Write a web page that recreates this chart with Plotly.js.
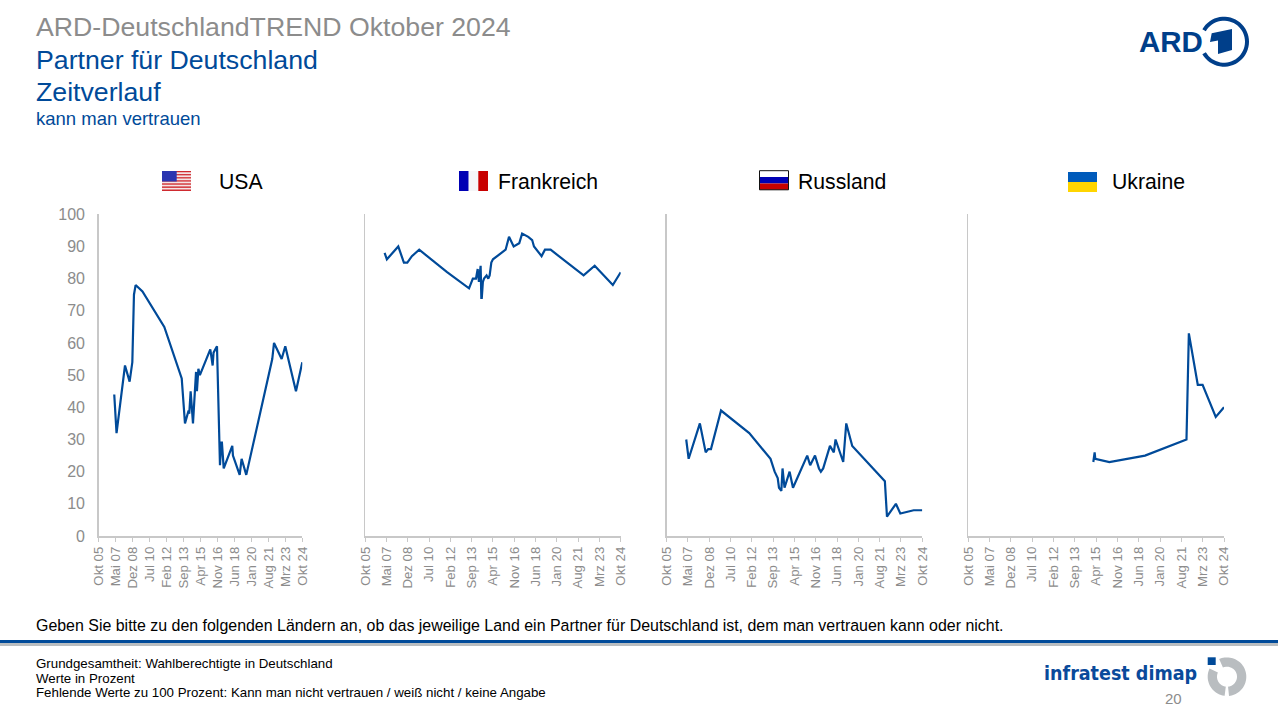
<!DOCTYPE html>
<html lang="de">
<head>
<meta charset="utf-8">
<title>ARD-DeutschlandTREND Oktober 2024</title>
<script src="https://cdn.plot.ly/plotly-3.0.1.min.js"></script>
<style>html,body{margin:0;padding:0;background:#fff;overflow:hidden}#chart{width:1278px;height:708px}</style>
</head>
<body>
<div id="chart"></div>
<script>
const tickDates = ["2005-10-01","2007-05-01","2008-12-01","2010-07-01","2012-02-01","2013-09-01","2015-04-01","2016-11-01","2018-06-01","2020-01-01","2021-08-01","2023-03-01","2024-10-01"];
const tickLabels = ["Okt 05","Mai 07","Dez 08","Jul 10","Feb 12","Sep 13","Apr 15","Nov 16","Jun 18","Jan 20","Aug 21","Mrz 23","Okt 24"];

const usaDates = ["2007-03-15","2007-06-01","2008-03-15","2008-08-20","2008-11-20","2009-01-15","2009-03-12","2009-11-01","2011-11-15","2013-07-01","2013-10-20","2014-01-01","2014-02-20","2014-03-15","2014-05-01","2014-07-20","2014-11-01","2014-12-01","2015-01-20","2015-03-12","2016-03-01","2016-05-20","2016-06-20","2016-10-15","2017-01-25","2017-03-10","2017-04-01","2017-06-01","2018-03-20","2018-04-12","2018-11-28","2019-02-01","2019-07-10","2021-12-12","2022-02-10","2022-10-28","2023-03-01","2024-02-28","2024-10-01"];
const usaValues = [44,32,53,48,54,75,78,76,65,49,35,38,39,38,45,35,51,45,52,50,58,53,57,59,22,29,29,21,28,25,19,24,19,55,60,55,59,45,54];

const frDates = ["2007-03-10","2007-05-10","2008-03-15","2008-08-15","2008-11-15","2009-03-20","2009-10-05","2011-11-01","2013-06-20","2013-10-01","2013-12-25","2014-02-10","2014-03-15","2014-05-01","2014-05-20","2014-06-01","2014-07-01","2014-08-01","2014-10-10","2014-11-25","2015-01-01","2015-02-15","2015-04-01","2016-03-10","2016-06-10","2016-10-15","2017-03-15","2017-06-01","2017-11-15","2018-03-01","2018-04-20","2018-11-12","2019-02-12","2019-07-15","2021-12-28","2022-10-25","2024-03-01","2024-10-01"];
const frValues = [88,86,90,85,85,87,89,82,77,80,80,83,79,84,74,74,79,80,81,80,81,85,86,89,93,90,91,94,93,92,90,87,89,89,81,84,78,82];

const ruDates = ["2007-03-15","2007-05-20","2008-03-20","2008-08-25","2008-11-01","2009-01-15","2009-10-15","2011-11-20","2013-06-20","2013-10-10","2014-01-01","2014-02-05","2014-04-10","2014-05-12","2014-07-05","2014-11-20","2015-02-20","2016-03-12","2016-06-01","2016-10-10","2017-01-25","2017-03-18","2017-05-20","2017-11-20","2018-03-05","2018-04-20","2018-11-15","2019-02-05","2019-07-18","2021-12-20","2022-02-15","2022-10-15","2023-02-12","2024-02-10","2024-10-01"];
const ruValues = [30,24,35,26,27,27,39,32,24,20,18,15,14,21,15,20,15,25,22,25,21,20,21,28,26,30,23,35,28,17,6,10,7,8,8];

const uaDates = ["2015-01-15","2015-02-20","2015-03-10","2016-03-25","2018-11-18","2021-12-18","2022-02-20","2022-10-20","2023-02-28","2024-02-20","2024-10-01"];
const uaValues = [23,26,24,23,25,30,63,47,47,37,40];

const W = 1278, H = 708;
const BLUE = "#004a99", GREY_TXT = "#8c8c8c", AXIS = "#c8c8c8";
const FONT = "Liberation Sans, Arial, sans-serif";
const fx = p => p / W, fy = p => 1 - p / H;

const panels = [
  {name:"USA", d:usaDates, v:usaValues, x0:98.7, x1:302.3, tx:218},
  {name:"Frankreich", d:frDates, v:frValues, x0:365.3, x1:620.7, tx:496.5},
  {name:"Russland", d:ruDates, v:ruValues, x0:666.7, x1:922.3, tx:797},
  {name:"Ukraine", d:uaDates, v:uaValues, x0:968.3, x1:1224, tx:1111}
];
const TOP = 214.3, BOTTOM = 536;

const traces = [], layout = {
  width:W, height:H, margin:{l:0,r:0,t:0,b:0}, autosize:false,
  paper_bgcolor:"#fff", plot_bgcolor:"#fff", showlegend:false,
  font:{family:FONT}, shapes:[], annotations:[]
};

panels.forEach((p,i) => {
  const s = i === 0 ? "" : String(i+1);
  traces.push({x:p.d, y:p.v, xaxis:"x"+s, yaxis:"y"+s, type:"scatter", mode:"lines", name:p.name,
    line:{color:BLUE, width:2.2}, hoverinfo:"x+y"});
  layout["xaxis"+s] = {
    type:"date", domain:[fx(p.x0), fx(p.x1)], range:["2005-10-01","2024-10-01"], anchor:"y"+s,
    tickmode:"array", tickvals:tickDates, ticktext:tickLabels, tickangle:-90,
    ticks:"outside", ticklen:4, tickwidth:1, tickcolor:AXIS,
    showgrid:false, zeroline:false, showline:true, linecolor:AXIS, linewidth:1.5,
    tickfont:{family:FONT, size:13.2, color:GREY_TXT}
  };
  layout["yaxis"+s] = {
    domain:[fy(BOTTOM), fy(TOP)], range:[0,100], anchor:"x"+s, tickmode:"linear", tick0:0, dtick:10,
    showgrid:false, zeroline:false, showline:true, linecolor:AXIS, linewidth:1.5, ticks:"",
    ticklabelstandoff:9,
    showticklabels:i === 0, tickfont:{family:FONT, size:16, color:GREY_TXT}
  };
  label(p.name, p.tx, 181, 21.2, "#000");
});

function label(text, x, y, size, color, anchor, family) {
  layout.annotations.push({text:text, xref:"paper", yref:"paper", x:fx(x), y:fy(y),
    xanchor:anchor || "left", yanchor:"middle", showarrow:false, borderpad:0,
    font:{family:family || FONT, size:size, color:color}});
}
function rect(x0,y0,x1,y1,color,border) {
  layout.shapes.push({type:"rect", xref:"paper", yref:"paper", x0:fx(x0), x1:fx(x1), y0:fy(y0), y1:fy(y1),
    fillcolor:color, line:border ? {color:border,width:1} : {width:0}, layer:"above"});
}
function poly(points,color) {
  const path = points.map((q,i) => (i ? "L" : "M") + fx(q[0]).toFixed(5) + "," + fy(q[1]).toFixed(5)).join(" ") + " Z";
  layout.shapes.push({type:"path", xref:"paper", yref:"paper", path:path, fillcolor:color, line:{width:0}, layer:"above"});
}
function ring(cx,cy,ro,ri,a0,a1,color) {
  const pts = [];
  for (let k=0;k<=48;k++){const a=(a0+(a1-a0)*k/48)*Math.PI/180;pts.push([cx+ro*Math.cos(a),cy+ro*Math.sin(a)]);}
  for (let k=48;k>=0;k--){const a=(a0+(a1-a0)*k/48)*Math.PI/180;pts.push([cx+ri*Math.cos(a),cy+ri*Math.sin(a)]);}
  poly(pts,color);
}

/* header */
label("ARD-DeutschlandTREND Oktober 2024", 35, 27, 26.7, "#8c8c8c");
label("Partner für Deutschland", 35, 60, 26.7, "#004a99");
label("Zeitverlauf", 35, 92, 26.7, "#004a99");
label("kann man vertrauen", 35, 118.5, 18.5, "#004a99");

/* footer */
label("Geben Sie bitte zu den folgenden Ländern an, ob das jeweilige Land ein Partner für Deutschland ist, dem man vertrauen kann oder nicht.", 35, 625, 15.95, "#000");
rect(0,640,W,643,"#004a99");
rect(0,643,W,646,"#b9bdc0");
label("Grundgesamtheit: Wahlberechtigte in Deutschland", 35, 663.5, 13.3, "#000");
label("Werte in Prozent", 35, 678, 13.3, "#000");
label("Fehlende Werte zu 100 Prozent: Kann man nicht vertrauen / weiß nicht / keine Angabe", 35, 692, 13.3, "#000");
label("20", 1173, 698, 15, "#8c8c8c", "center");

/* flags */
const stripes = 13;
for (let k=0;k<stripes;k++) rect(162,171+k*20/stripes,191,171+(k+1)*20/stripes, k%2 ? "#f4e4e4" : "#cf2a2f");
rect(162,171,176.7,181.5,"#2a35b0");
rect(459,171,468.7,191,"#0000b4"); rect(468.7,171,478.3,191,"#f5f6f8"); rect(478.3,171,488,191,"#c80000");
rect(759.5,170.7,788.5,177,"#ffffff"); rect(759.5,177,788.5,183.5,"#0000b4"); rect(759.5,183.5,788.5,189.8,"#c80000");
rect(759.5,170.7,788.5,189.8,"rgba(0,0,0,0)","#111111");
rect(1068,172,1097,182,"#005bbb"); rect(1068,182,1097,192,"#ffd500");

/* ARD logo */
label("<b>ARD</b>", 1138, 41.5, 29.5, "#003f8a");
ring(1224,41.7,25,21,-150,150,"#003f8a");
poly([[1211.7,33.3],[1232,29],[1232,50],[1218,54],[1218,40.5],[1210,42]],"#003f8a");

/* infratest dimap logo */
label("<b>infratest dimap</b>", 1043, 673, 19.5, "#0a4a9b", "left", "DejaVu Sans Condensed, Liberation Sans Narrow, sans-serif");
rect(1207.7,657.3,1215.7,665,"#004a99");
ring(1227,676.7,19.3,10,-114,84,"#b9bdc0");
ring(1227,676.7,19.3,10,97,205,"#b9bdc0");

Plotly.newPlot("chart", traces, layout, {displayModeBar:false, staticPlot:true});
</script>
</body>
</html>
